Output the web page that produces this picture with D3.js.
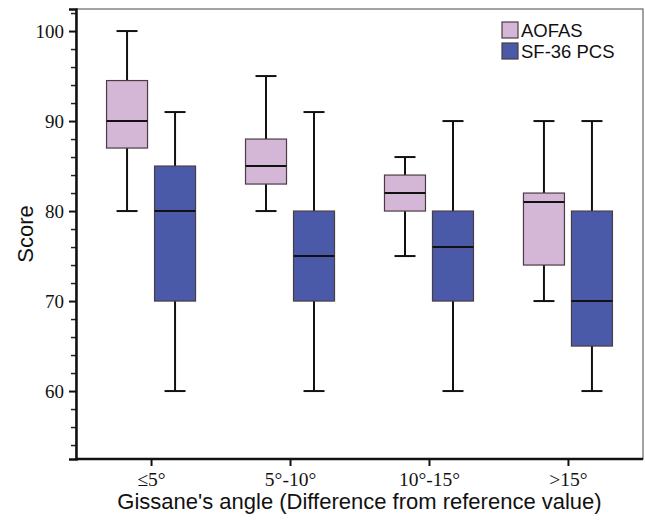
<!DOCTYPE html>
<html lang="en">
<head>
    <script src='https://d3js.org/d3.v7.min.js'></script>
</head>
<body style="margin:0;background:#fff">
    <style>
        .ytick text { font: 19px "Liberation Serif", "Times New Roman", serif; fill: #111; }
        .xtick text { font: 19.5px "Liberation Serif", "Times New Roman", serif; fill: #111; }
        .lab { font: 22px "Liberation Sans", Arial, sans-serif; fill: #111; }
        .leg { font: 18.5px "Liberation Sans", Arial, sans-serif; fill: #111; }
    </style>
    <script>
        // categories and series
        let groups = ["\u22645\u00b0", "5\u00b0-10\u00b0", "10\u00b0-15\u00b0", ">15\u00b0"];
        let series = ["AOFAS", "SF-36 PCS"];
        let colors = ["#d4b6d6", "#4a5aa8"];
        // [min, q1, median, q3, max] per group
        let aofas = [[80, 87, 90, 94.5, 100], [80, 83, 85, 88, 95], [75, 80, 82, 84, 86], [70, 74, 81, 82, 90]];
        let sf36 = [[60, 70, 80, 85, 91], [60, 70, 75, 80, 91], [60, 70, 76, 80, 90], [60, 65, 70, 80, 90]];
        let yTicks = [60, 70, 80, 90, 100];

        var width = 645, height = 520;
        var margin = { top: 9, right: 2, bottom: 61, left: 76 };

        var svg = d3.select("body").append("svg")
            .attr("width", width)
            .attr("height", height);

        var x = d3.scalePoint()
            .domain(groups)
            .range([margin.left, width - margin.right])
            .padding(0.54);

        var y = d3.scaleLinear()
            .domain([52.45, 102.45])
            .range([height - margin.bottom, margin.top]);

        // frame (top / right thin)
        svg.append("rect")
            .attr("x", margin.left).attr("y", margin.top)
            .attr("width", width - margin.right - margin.left)
            .attr("height", height - margin.bottom - margin.top)
            .attr("fill", "none").attr("stroke", "#666").attr("stroke-width", 1.2);

        // y axis with minor ticks
        var minor = d3.range(54, 103, 2).filter(d => d % 10 != 0);
        svg.append("g").attr("transform", "translate(" + margin.left + ",0)")
            .call(d3.axisLeft(y).tickValues(minor).tickSize(5).tickFormat(""))
            .call(g => g.select(".domain").remove())
            .selectAll("line").attr("stroke", "#222").attr("stroke-width", 1.5);
        var ya = svg.append("g").attr("class", "ytick")
            .attr("transform", "translate(" + margin.left + ",0)")
            .call(d3.axisLeft(y).tickValues(yTicks).tickSize(7).tickPadding(5));
        ya.select(".domain").attr("stroke", "#111").attr("stroke-width", 2.5);
        ya.selectAll("line").attr("stroke", "#111").attr("stroke-width", 2);

        // x axis
        var xa = svg.append("g").attr("class", "xtick")
            .attr("transform", "translate(0," + (height - margin.bottom) + ")")
            .call(d3.axisBottom(x).tickSize(7).tickPadding(6));
        xa.select(".domain").attr("stroke", "#111").attr("stroke-width", 2.5)
            .attr("d", "M" + margin.left + ",0H" + (width - margin.right));
        xa.selectAll("line").attr("stroke", "#111").attr("stroke-width", 2);

        // boxes
        var boxW = 41, off = 24;
        [aofas, sf36].forEach(function(data, s) {
            var g = svg.append("g").selectAll("g")
                .data(data)
                .enter()
                .append("g")
                .attr("transform", function(d, i) {
                    return "translate(" + (x(groups[i]) + (s == 0 ? -off : off)) + ",0)";
                });
            // whiskers
            g.append("line").attr("x1", 0).attr("x2", 0)
                .attr("y1", d => y(d[4])).attr("y2", d => y(d[3]))
                .attr("stroke", "#111").attr("stroke-width", 2);
            g.append("line").attr("x1", 0).attr("x2", 0)
                .attr("y1", d => y(d[1])).attr("y2", d => y(d[0]))
                .attr("stroke", "#111").attr("stroke-width", 2);
            [0, 4].forEach(function(k) {
                g.append("line").attr("x1", -10.5).attr("x2", 10.5)
                    .attr("y1", d => y(d[k])).attr("y2", d => y(d[k]))
                    .attr("stroke", "#111").attr("stroke-width", 2);
            });
            g.append("rect")
                .attr("x", -boxW / 2)
                .attr("y", d => y(d[3]))
                .attr("width", boxW)
                .attr("height", d => y(d[1]) - y(d[3]))
                .attr("fill", colors[s])
                .attr("stroke", "#4a3c44").attr("stroke-width", 1.2);
            g.append("line").attr("x1", -boxW / 2).attr("x2", boxW / 2)
                .attr("y1", d => y(d[2])).attr("y2", d => y(d[2]))
                .attr("stroke", "#111").attr("stroke-width", 2);
        });

        // legend
        var leg = svg.append("g").attr("transform", "translate(502,22)");
        series.forEach(function(name, i) {
            leg.append("rect").attr("x", 0).attr("y", i * 21)
                .attr("width", 16).attr("height", 16)
                .attr("fill", colors[i]).attr("stroke", "#4a3c44").attr("stroke-width", 1.2);
            leg.append("text").attr("class", "leg")
                .attr("x", 19).attr("y", i * 21 + 15).text(name);
        });

        // axis labels
        svg.append("text").attr("class", "lab")
            .attr("text-anchor", "middle")
            .attr("transform", "translate(33," + (margin.top + (height - margin.bottom - margin.top) / 2) + ") rotate(-90)")
            .text("Score");
        svg.append("text").attr("class", "lab")
            .attr("text-anchor", "middle")
            .attr("x", (margin.left + width - margin.right) / 2)
            .attr("y", 509)
            .text("Gissane's angle (Difference from reference value)");
    </script>
</body>
</html>
